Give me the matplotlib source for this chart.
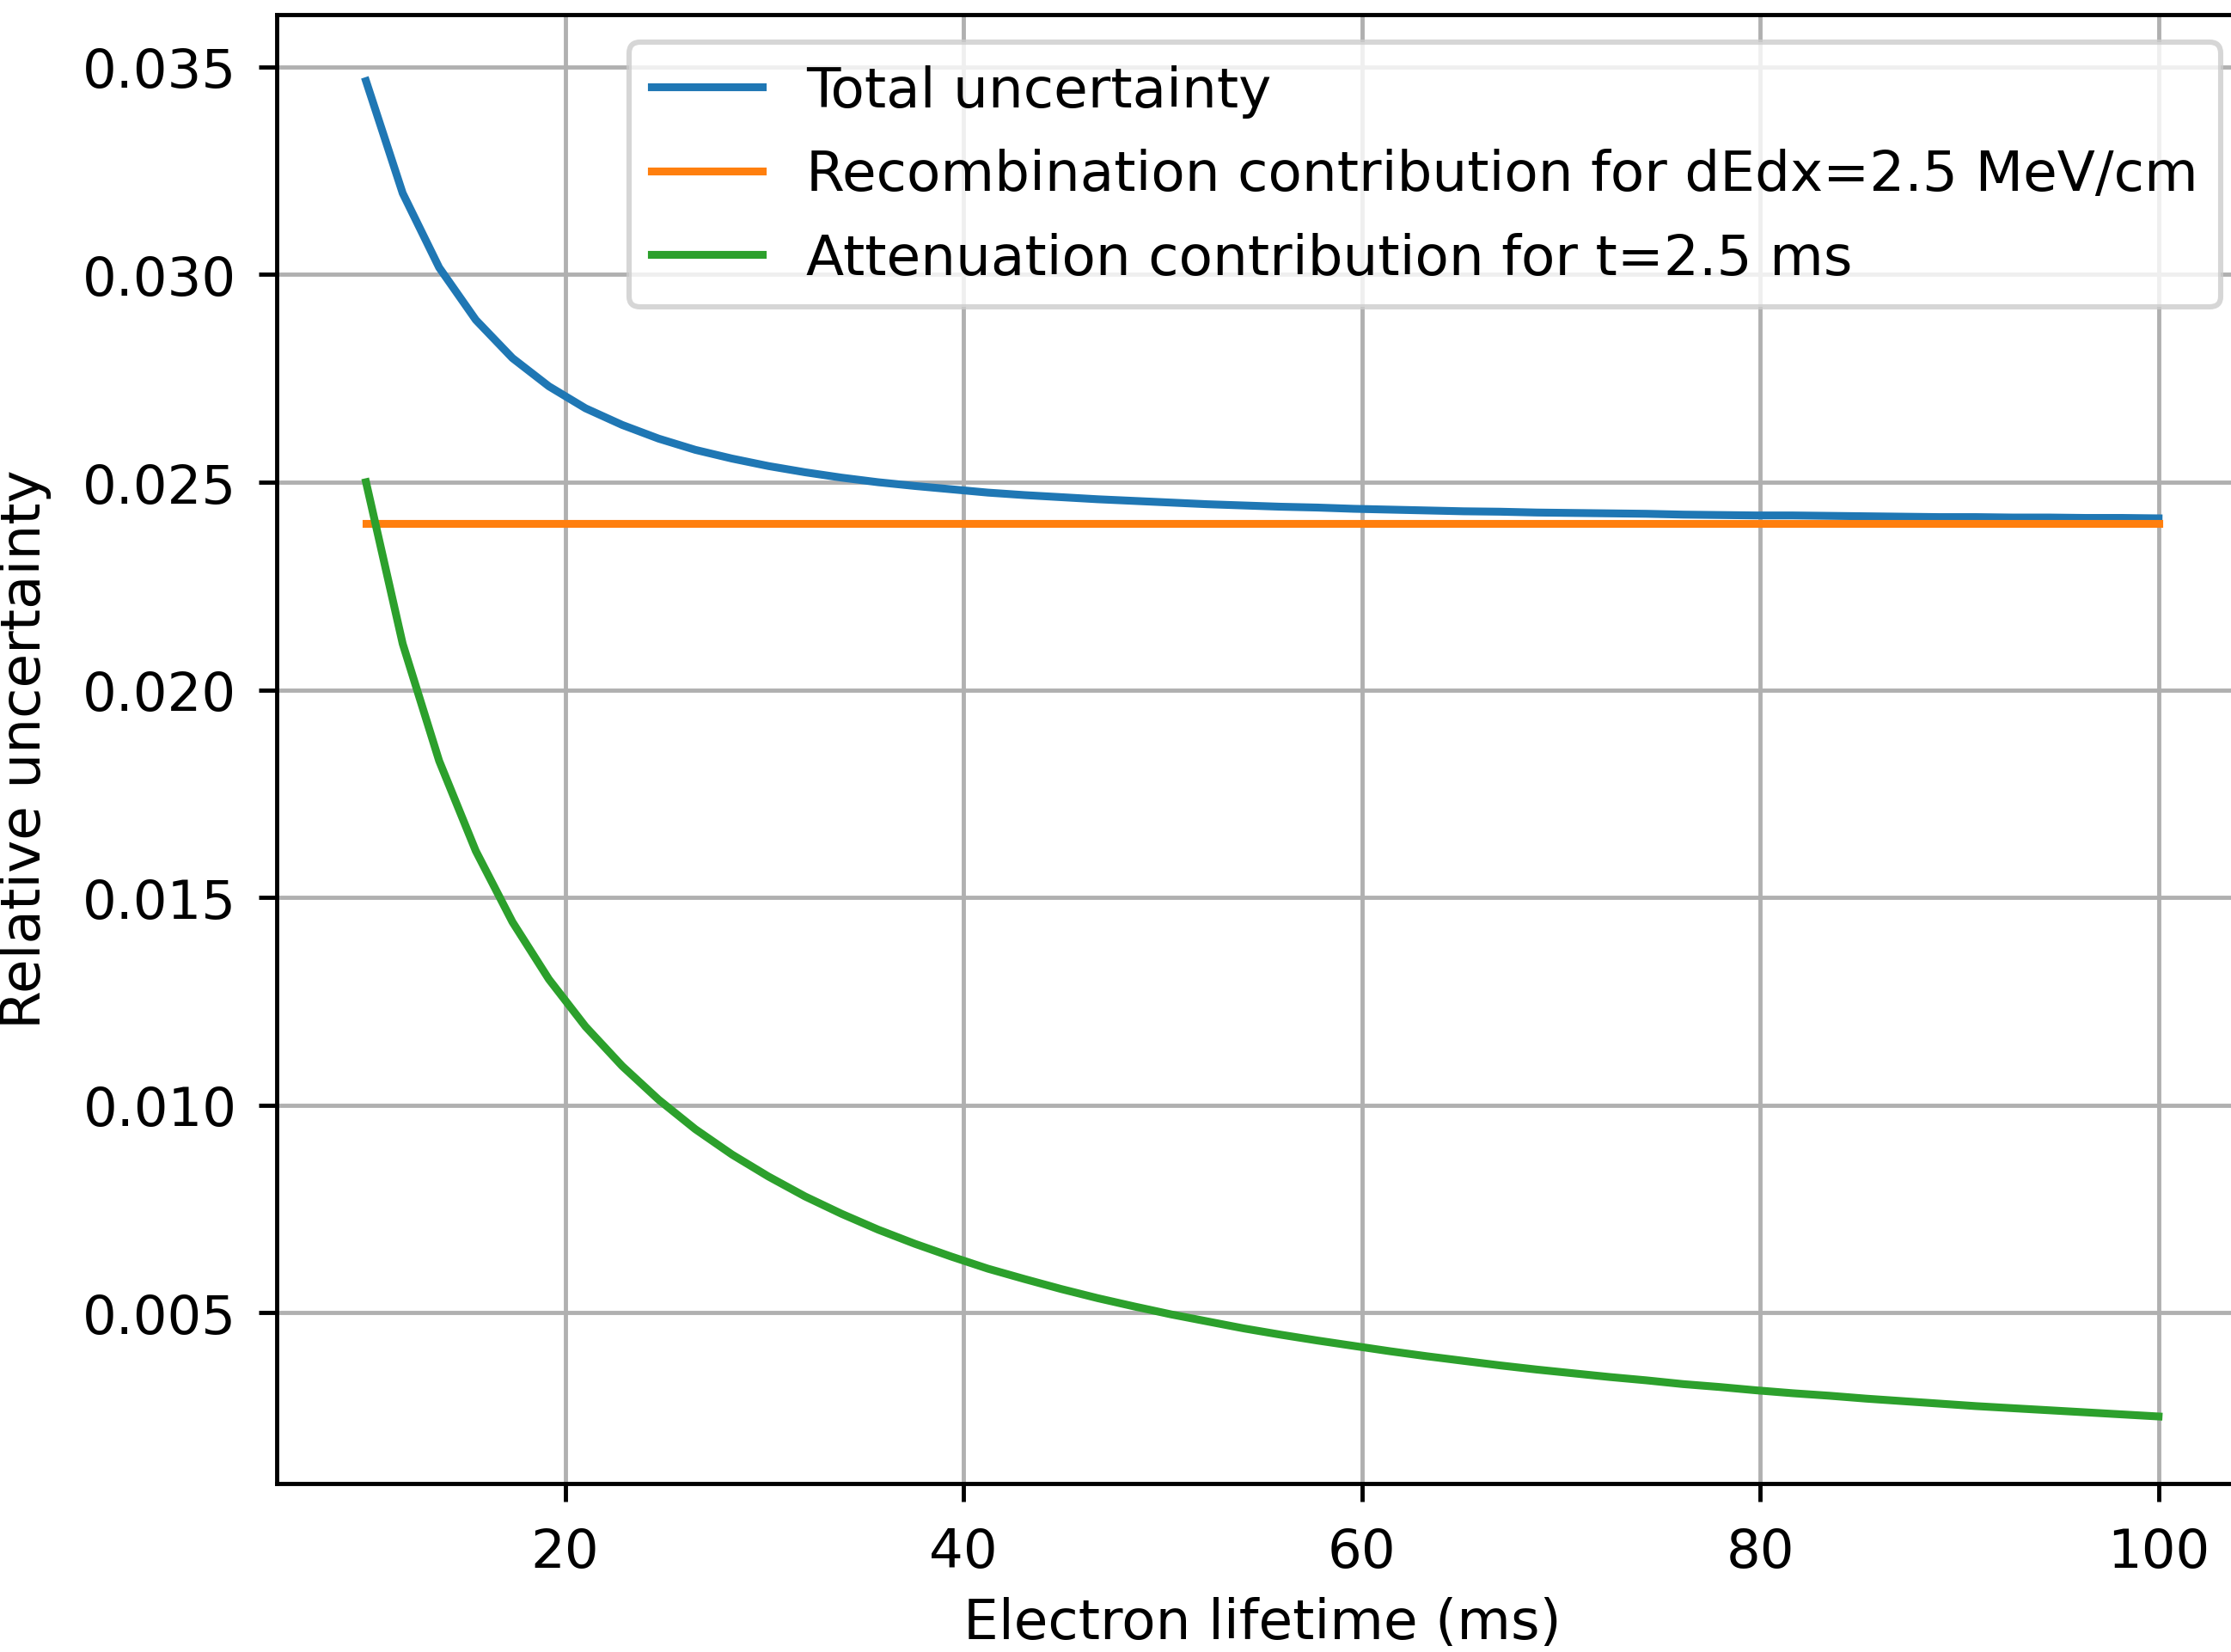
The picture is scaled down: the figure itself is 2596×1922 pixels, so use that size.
"""Relative uncertainty versus electron lifetime."""

import matplotlib

matplotlib.use("Agg")
import matplotlib.pyplot as plt

# Electron lifetime (ms)
lifetime = [10.00, 11.84, 13.67, 15.51, 17.35, 19.18, 21.02, 22.86, 24.69,
            26.53, 28.37, 30.20, 32.04, 33.88, 35.71, 37.55, 39.39, 41.22,
            43.06, 44.90, 46.73, 48.57, 50.41, 52.24, 54.08, 55.92, 57.76,
            59.59, 61.43, 63.27, 65.10, 66.94, 68.78, 70.61, 72.45, 74.29,
            76.12, 77.96, 79.80, 81.63, 83.47, 85.31, 87.14, 88.98, 90.82,
            92.65, 94.49, 96.33, 98.16, 100.00]

total = [0.03466, 0.03196, 0.03017, 0.02891, 0.02799, 0.02731, 0.02678,
         0.02638, 0.02605, 0.02578, 0.02557, 0.02539, 0.02524, 0.02511,
         0.02500, 0.02491, 0.02483, 0.02475, 0.02469, 0.02464, 0.02459,
         0.02455, 0.02451, 0.02447, 0.02444, 0.02441, 0.02439, 0.02436,
         0.02434, 0.02432, 0.02430, 0.02429, 0.02427, 0.02426, 0.02425,
         0.02424, 0.02422, 0.02421, 0.02420, 0.02420, 0.02419, 0.02418,
         0.02417, 0.02416, 0.02416, 0.02415, 0.02415, 0.02414, 0.02414,
         0.02413]

recombination = [0.024] * len(lifetime)

attenuation = [0.02500, 0.02111, 0.01829, 0.01612, 0.01441, 0.01303, 0.01189,
               0.01094, 0.01013, 0.00942, 0.00881, 0.00828, 0.00780, 0.00738,
               0.00700, 0.00666, 0.00635, 0.00606, 0.00581, 0.00557, 0.00535,
               0.00515, 0.00496, 0.00479, 0.00462, 0.00447, 0.00433, 0.00420,
               0.00407, 0.00395, 0.00384, 0.00373, 0.00363, 0.00354, 0.00345,
               0.00337, 0.00328, 0.00321, 0.00313, 0.00306, 0.00300, 0.00293,
               0.00287, 0.00281, 0.00275, 0.00270, 0.00265, 0.00260, 0.00255,
               0.00250]

DPI = 438
plt.rcParams["font.size"] = 10.6
plt.rcParams["xtick.labelsize"] = 10.3
plt.rcParams["ytick.labelsize"] = 10.3
plt.rcParams["xtick.major.pad"] = 4.8
plt.rcParams["ytick.major.pad"] = 4.1

fig = plt.figure(figsize=(2596 / DPI, 1923 / DPI), dpi=DPI)
ax = fig.add_axes([0.1239, 0.1021, 0.8838, 0.8887])

ax.plot(lifetime, total, label="Total uncertainty")
ax.plot(lifetime, recombination,
        label="Recombination contribution for dEdx=2.5 MeV/cm")
ax.plot(lifetime, attenuation, label="Attenuation contribution for t=2.5 ms")
ax.set_xlabel("Electron lifetime (ms)", labelpad=3.4)
ax.set_ylabel("Relative uncertainty", labelpad=5.9)
ax.grid(True)
ax.legend(loc="upper right", labelspacing=0.55)

fig.savefig("out.png", dpi=DPI)
plt.close(fig)
